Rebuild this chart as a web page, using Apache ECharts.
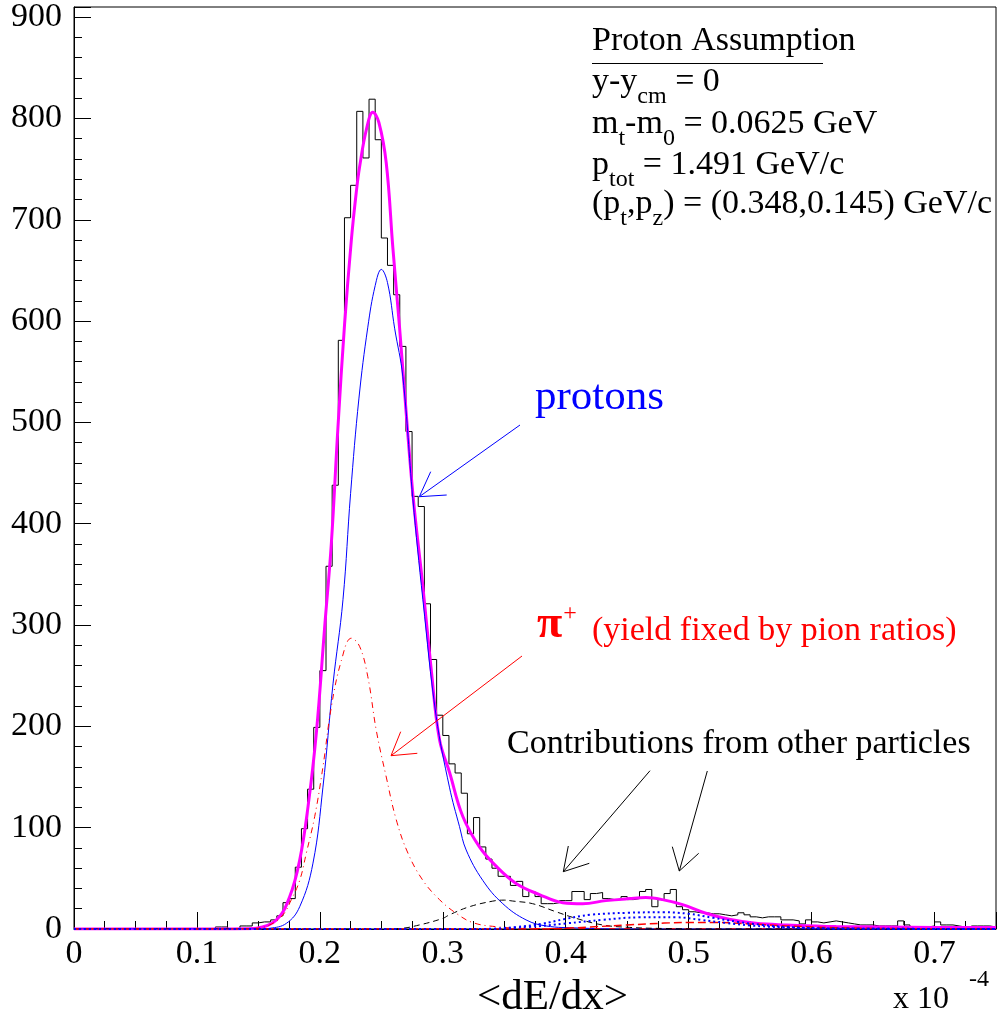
<!DOCTYPE html>
<html><head><meta charset="utf-8">
<script src="https://cdn.jsdelivr.net/npm/echarts@6/dist/echarts.min.js"></script>
<style>html,body{margin:0;padding:0;background:#fff}#c{width:1001px;height:1021px}</style>
</head><body><div id="c"></div>
<script>
// ---------------- DATA ----------------
const binStart = 0;
const binWidth = 0.005;
const counts = [
  0,0,0,0,0,0,0,0,0,0,
  0,0,0,0,0,0,0,0,0,0,
  0,0,0,2,2,0,0,3,3,6,
  7,7,9,13,26,30,61,99,138,199,
  255,358,438,581,702,734,807,761,819,779,
  682,655,626,575,491,427,417,321,266,211,
  191,163,154,134,94,110,81,69,60,52,
  52,43,47,32,37,32,25,25,26,28,
  28,37,37,29,35,36,30,29,29,32,
  29,30,37,39,22,29,35,39,22,19,
  17,16,16,15,15,14,13,14,16,14,
  12,11,12,12,12,9,9,8,5,9,
  7,6,7,8,7,6,5,4,4,4,
  3,3,3,3,8,4,1,2,2,3,
  7,4,4,3,2,1,3,3,3,2
];
const xTickLabels = ['0','0.1','0.2','0.3','0.4','0.5','0.6','0.7'];
const yTickLabels = ['0','100','200','300','400','500','600','700','800','900'];

// total fit (magenta)
const totalX = [0,0.12,0.14,0.1484,0.1647,0.1755,0.1836,0.1904,0.1971,0.2039,0.2093,0.2147,0.2201,0.2256,0.2296,0.2323,0.238,0.2431,0.248,0.254,0.2594,0.2648,0.2675,0.2756,0.2838,0.2906,0.2973,0.3054,0.3163,0.3298,0.3434,0.3596,0.3786,0.3975,0.4138,0.4327,0.4517,0.4652,0.4787,0.495,0.514,0.5329,0.5546,0.58,0.62,0.70,0.75];
const totalY = [0,0,0.3,0.8,9,32,68,121,193,298,380,495,597,680,727,752,790,806,796,756,672,594,552,430,338,256,187,155,111,81,62,45,34,26,25,28,30,31,29,24,15.5,9.6,5.6,4,2.5,1.6,1.5];
// protons (blue solid)
const protonX = [0,0.15,0.1592,0.1728,0.1836,0.1944,0.2025,0.2107,0.2188,0.225,0.2318,0.239,0.245,0.25,0.255,0.2608,0.2675,0.2756,0.2838,0.2946,0.3054,0.3136,0.319,0.3325,0.3488,0.3677,0.384,0.41,0.45,0.75];
const protonY = [0,0,0.7,5.6,22,65,140,242,325,430,524,594,635,651,638,593,545,425,325,210,140,101,78,48,25,9,3,1,0,0];
// pi+ (red dash-dot)
const pionX = [0,0.13,0.148,0.1592,0.17,0.1768,0.1836,0.189,0.1958,0.2025,0.2093,0.2175,0.2256,0.2323,0.239,0.2459,0.254,0.2621,0.2716,0.2838,0.2973,0.3109,0.3244,0.3434,0.37,0.75];
const pionY = [0,0,0.7,4,14,29,48,75,111,160,219,265,287,279,249,196,150,108,75,48,29,15.5,6.3,2.3,0.5,0];
// other contribution (black dashed)
const otherX = [0,0.25,0.265,0.281,0.3,0.3054,0.3217,0.3406,0.35,0.3569,0.373,0.3921,0.4084,0.43,0.4517,0.48,0.52,0.75];
const otherY = [0,0,0.5,4,10.5,14,22,27.5,28.5,27.6,25,17,10.5,4,1.6,0.5,0,0];
// other contribution (red dashed)
const other2X = [0,0.38,0.42,0.45,0.48,0.5,0.52,0.55,0.58,0.62,0.66,0.75];
const other2Y = [0,0,2,4,5.8,6.5,6.5,5,3,1.3,0.5,0];
// other contributions (blue dotted)
const dotAX = [0,0.33,0.36,0.38,0.40,0.42,0.45,0.48,0.50,0.52,0.54,0.56,0.58,0.62,0.75];
const dotAY = [0,0,2,5,10,14,16,16.5,15,11,7,4,2,0.5,0];
const dotBX = [0,0.34,0.37,0.40,0.43,0.46,0.49,0.51,0.53,0.55,0.58,0.62,0.75];
const dotBY = [0,0,2,5.5,9,11.5,11.5,9,6,3.5,1.5,0.3,0];

// ---------------- BUILD ----------------
const zip = (xs, ys) => xs.map((x, i) => [x, ys[i]]);
const hist = counts.map((v, i) => [binStart + i * binWidth, v]);
hist.push([binStart + counts.length * binWidth, counts[counts.length - 1]]);

const FONT = '"Liberation Serif", "Times New Roman", serif';
const ctx = document.createElement('canvas').getContext('2d');
function measure(t, font) { ctx.font = font; return ctx.measureText(t).width; }
const graphics = [];
function textRun(x, baseline, parts, color) {
  let cx = x;
  for (const p of parts) {
    const size = p.s;
    const font = (p.w || 'normal') + ' ' + size + 'px ' + FONT;
    const base = baseline + (p.dy || 0);
    graphics.push({type: 'text', x: cx, y: base - 0.33 * size, z: 100,
      style: {text: p.t, font: font, fill: color, align: 'left', verticalAlign: 'middle', textAlign: 'left', textVerticalAlign: 'middle'}});
    cx += measure(p.t, font) + (p.dx || 0);
  }
  return cx;
}
function line(x1, y1, x2, y2, color) {
  graphics.push({type: 'line', z: 100, shape: {x1, y1, x2, y2}, style: {stroke: color, lineWidth: 1}});
}
const N = 34, S = 24, SD = 12;
textRun(592, 52, [{t: 'Proton Assumption', s: N}], '#000');
line(592, 63.5, 823, 63.5, '#000');
textRun(592, 93, [{t: 'y-y', s: N}, {t: 'cm', s: S, dy: SD}, {t: ' = 0', s: N}], '#000');
textRun(592, 135, [{t: 'm', s: N}, {t: 't', s: S, dy: SD}, {t: '-m', s: N}, {t: '0', s: S, dy: SD}, {t: ' = 0.0625 GeV', s: N}], '#000');
textRun(592, 176, [{t: 'p', s: N}, {t: 'tot', s: S, dy: SD}, {t: ' = 1.491 GeV/c', s: N}], '#000');
textRun(592, 215, [{t: '(p', s: N}, {t: 't', s: S, dy: SD}, {t: ',p', s: N}, {t: 'z', s: S, dy: SD}, {t: ') = (0.348,0.145) GeV/c', s: N}], '#000');

// protons label + arrow
textRun(535, 412, [{t: 'protons', s: 43}], '#0000ff');
line(520, 425, 419.3, 496.7, '#0000ff');
line(419.3, 496.7, 430.7, 471.7, '#0000ff');
line(419.3, 496.7, 446.7, 495, '#0000ff');

// pi+ label + arrow
const piEnd = textRun(537, 640, [{t: 'π', s: 46, w: 'bold'}], '#ff0000');
textRun(piEnd + 1, 622, [{t: '+', s: 24}], '#ff0000');
textRun(592, 642, [{t: '(yield fixed by pion ratios)', s: N}], '#ff0000');
line(522, 656, 391, 755.7, '#ff0000');
line(391, 755.7, 400.7, 731.7, '#ff0000');
line(391, 755.7, 417.3, 753.3, '#ff0000');

// other contributions label + arrows
textRun(507, 755, [{t: 'Contributions from other particles', s: N}], '#000');
line(650, 770.7, 563.3, 871.7, '#000');
line(563.3, 871.7, 568.3, 846, '#000');
line(563.3, 871.7, 589.3, 863.3, '#000');
line(707.3, 771, 679.3, 871, '#000');
line(679.3, 871, 672.3, 846.7, '#000');
line(679.3, 871, 698.7, 853.3, '#000');

// axis title and exponent
(function () {
  const f = 'normal 43px ' + FONT;
  const w = measure('<dE/dx>', f);
  textRun(552.5 - w / 2, 1012, [{t: '<dE/dx>', s: 43}], '#000');
})();
textRun(893, 1010, [{t: 'x 10', s: 32}], '#000');
textRun(969, 988, [{t: '-4', s: 24}], '#000');

const curve = (xs, ys, color, width, type, z) => ({
  type: 'line', data: zip(xs, ys), smooth: 0.4, symbol: 'none', silent: true, z: z,
  lineStyle: {color: color, width: width, type: type}
});

const chart = echarts.init(document.getElementById('c'), null, {renderer: 'canvas'});
chart.setOption({
  animation: false,
  backgroundColor: '#fff',
  grid: {left: 74, right: 5, top: 7, bottom: 92, show: true, borderColor: '#000', borderWidth: 1, backgroundColor: 'transparent', containLabel: false, outerBoundsMode: 'none'},
  xAxis: {
    type: 'value', min: 0, max: 0.75, interval: 0.1,
    axisLine: {show: true, onZero: false, lineStyle: {color: '#000', width: 1}},
    axisTick: {show: true, inside: true, length: 17, lineStyle: {color: '#000', width: 1}},
    minorTick: {show: true, splitNumber: 4, length: 8, lineStyle: {color: '#000', width: 1}},
    splitLine: {show: false}, minorSplitLine: {show: false},
    axisLabel: {
      show: true, margin: 8, color: '#000', fontSize: 34, fontFamily: FONT, showMaxLabel: false, hideOverlap: false,
      formatter: function (v) {
        const k = Math.round(v * 10);
        if (Math.abs(v * 10 - k) > 1e-6) return '';
        return xTickLabels[k] !== undefined ? xTickLabels[k] : '';
      }
    }
  },
  yAxis: {
    type: 'value', min: 0, max: 910, interval: 100,
    axisLine: {show: true, onZero: false, lineStyle: {color: '#000', width: 1}},
    axisTick: {show: true, inside: true, length: 17, lineStyle: {color: '#000', width: 1}},
    minorTick: {show: true, splitNumber: 5, length: 8, lineStyle: {color: '#000', width: 1}},
    splitLine: {show: false}, minorSplitLine: {show: false},
    axisLabel: {
      show: true, margin: 12, color: '#000', fontSize: 34, fontFamily: FONT, showMaxLabel: false, hideOverlap: false,
      formatter: function (v) {
        const k = Math.round(v / 100);
        if (Math.abs(v - k * 100) > 1e-6) return '';
        return yTickLabels[k] !== undefined ? yTickLabels[k] : '';
      }
    }
  },
  series: [
    {type: 'line', data: hist, step: 'end', symbol: 'none', silent: true, z: 2,
     lineStyle: {color: '#000', width: 1}},
    curve(totalX, totalY, '#ff00ff', 3, 'solid', 3),
    curve(protonX, protonY, '#0000ff', 1, 'solid', 4),
    curve(pionX, pionY, '#ff0000', 1, [6, 4, 1, 4], 4),
    curve(otherX, otherY, '#000000', 1, [6, 4], 4),
    curve(other2X, other2Y, '#ff0000', 1.5, [8, 4], 4),
    curve(dotAX, dotAY, '#0000ff', 2, [2, 3], 4),
    curve(dotBX, dotBY, '#0000ff', 2, [2, 3], 4)
  ],
  graphic: {elements: graphics}
});
</script>
</body></html>
